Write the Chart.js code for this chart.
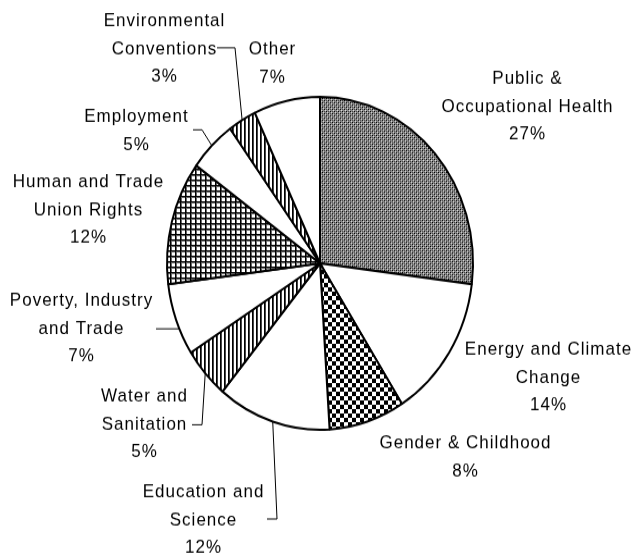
<!DOCTYPE html>
<html>
<head>
<meta charset="utf-8">
<script src="https://cdn.jsdelivr.net/npm/chart.js@4/dist/chart.umd.min.js"></script>
<style>
  html, body { margin: 0; padding: 0; background: #fff; width: 634px; height: 556px; overflow: hidden; }
  #outer { width: 634px; height: 556px; position: relative; }
  #wrap { position: absolute; left: 0; top: 0; width: 634px; height: 511px; transform: scaleY(1.088); transform-origin: 0 0; }
  canvas { display: block; }
</style>
</head>
<body>
<div id="outer"><div id="wrap"><canvas id="c" width="634" height="511"></canvas></div></div>
<script>
// ---- data ----
const categories = [
  ["Public &", "Occupational Health"],
  ["Energy and Climate", "Change"],
  ["Gender & Childhood"],
  ["Education and", "Science"],
  ["Water and", "Sanitation"],
  ["Poverty, Industry", "and Trade"],
  ["Human and Trade", "Union Rights"],
  ["Employment"],
  ["Environmental", "Conventions"],
  ["Other"]
];
const shares = [27, 14, 8, 12, 5, 7, 12, 5, 3, 7];
const fillKinds = ["stipple", "plain", "checker", "plain", "vstripe", "plain", "grid", "plain", "vstripe", "plain"];

// ---- layout (label offsets from the pie centre, px) ----
const labelOffsets = [
  [207, -144], [228, 105], [145, 178], [-117, 236], [-176, 148],
  [-239, 60], [-232, -49], [-184, -122], [-156, -197], [-48, -184]
];
const leaders = {
  3: { pts: [[-53, 235], [-43, 235]], edge: true },
  4: { pts: [[-128, 148.4], [-118, 148.4]], edge: true },
  5: { pts: [[-164, 60.2], [-141, 60.2]], edge: false },
  7: { pts: [[-127, -122.7], [-118, -122.7]], edge: true },
  8: { pts: [[-103, -198.1], [-85, -198.1]], edge: true }
};

function makePattern(kind) {
  const c = document.createElement('canvas');
  const x = c.getContext('2d');
  if (kind === 'stipple') {
    c.width = 4; c.height = 4;
    x.fillStyle = '#8c8c8c'; x.fillRect(0, 0, 4, 4);
    x.fillStyle = '#000'; x.fillRect(0, 0, 1, 1); x.fillRect(2, 2, 1, 1);
    x.fillStyle = '#444'; x.fillRect(2, 0, 1, 1); x.fillRect(0, 2, 1, 1);
    x.fillStyle = '#d8d8d8'; x.fillRect(1, 1, 1, 1); x.fillRect(3, 3, 1, 1);
  } else if (kind === 'checker') {
    c.width = 8; c.height = 8;
    x.fillStyle = '#fff'; x.fillRect(0, 0, 8, 8);
    x.fillStyle = '#000'; x.fillRect(0, 0, 4, 4); x.fillRect(4, 4, 4, 4);
  } else if (kind === 'vstripe') {
    c.width = 4; c.height = 4;
    x.fillStyle = '#fff'; x.fillRect(0, 0, 4, 4);
    x.fillStyle = '#000'; x.fillRect(0, 0, 1, 4);
    x.fillStyle = '#444'; x.fillRect(1, 0, 1, 4);
  } else if (kind === 'grid') {
    c.width = 5; c.height = 5;
    x.fillStyle = '#fff'; x.fillRect(0, 0, 5, 5);
    x.fillStyle = '#666'; x.fillRect(1, 0, 1, 5); x.fillRect(0, 1, 5, 1);
    x.fillStyle = '#000'; x.fillRect(0, 0, 1, 5); x.fillRect(0, 0, 5, 1);
  } else {
    return '#ffffff';
  }
  return x.createPattern(c, 'repeat');
}

const labelPlugin = {
  id: 'pieLabels',
  afterDraw(chart) {
    const ctx = chart.ctx;
    const meta = chart.getDatasetMeta(0);
    ctx.save();
    ctx.fillStyle = '#000';
    ctx.strokeStyle = '#000';
    ctx.lineWidth = 1;
    ctx.font = '17px "Liberation Sans", Arial, sans-serif';
    ctx.textAlign = 'center';
    ctx.textBaseline = 'middle';
    try { ctx.letterSpacing = '1px'; } catch (e) {}
    const lh = 25.7;
    meta.data.forEach((arc, i) => {
      const cx = arc.x, cy = arc.y;
      const lines = categories[i].concat([shares[i] + '%']);
      const [ox, oy] = labelOffsets[i];
      const top = cy + oy - (lines.length - 1) * lh / 2;
      lines.forEach((t, k) => ctx.fillText(t, cx + ox + 0.5, top + k * lh));
      const L = leaders[i];
      if (L) {
        ctx.beginPath();
        L.pts.forEach((p, k) => {
          const px = cx + p[0], py = cy + p[1];
          if (k === 0) ctx.moveTo(px, py); else ctx.lineTo(px, py);
        });
        if (L.edge) {
          const mid = (arc.startAngle + arc.endAngle) / 2;
          ctx.lineTo(cx + Math.cos(mid) * arc.outerRadius, cy + Math.sin(mid) * arc.outerRadius);
        }
        ctx.stroke();
      }
    });
    ctx.restore();
  }
};

new Chart(document.getElementById('c'), {
  type: 'pie',
  data: {
    labels: categories,
    datasets: [{
      data: shares,
      backgroundColor: fillKinds.map(makePattern),
      borderColor: '#000',
      borderWidth: 2,
      radius: 153
    }]
  },
  options: {
    responsive: false,
    animation: false,
    layout: { padding: { left: 167, right: 161, top: 89, bottom: 116 } },
    plugins: { legend: { display: false }, tooltip: { enabled: false } }
  },
  plugins: [labelPlugin]
});
</script>
</body>
</html>
